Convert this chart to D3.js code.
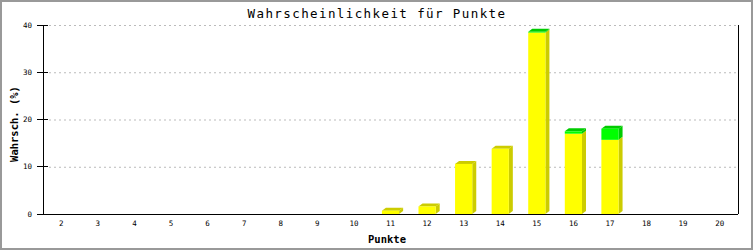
<!DOCTYPE html>
<html>
<head>
<meta charset="utf-8">
<script src="https://cdn.jsdelivr.net/npm/d3@7"></script>
<style>
  body { margin: 0; background: #fff; }
  svg { display: block; }
</style>
</head>
<body>
<svg id="chart" width="753" height="250"></svg>
<script>
// data
var punkte = ["2","3","4","5","6","7","8","9","10","11","12","13","14","15","16","17","18","19","20"];
var gelb  = [0,0,0,0,0,0,0,0,0,0.7,1.6,10.6,13.8,38.4,17.0,15.7,0,0,0];
var gruen = [0,0,0,0,0,0,0,0,0,0,0,0,0,0.15,0.5,2.35,0,0,0];
var yTicks = [0,10,20,30,40];

var W = 753, H = 250;
var plotLeft = 43, plotRight = 738, plotTop = 25, plotBottom = 214;
var depthX = 4, depthY = 3;

var svg = d3.select("#chart");

// outer frame
svg.append("rect")
  .attr("x", 1).attr("y", 1)
  .attr("width", W - 2).attr("height", H - 2)
  .attr("fill", "#fff")
  .attr("stroke", "#999")
  .attr("stroke-width", 2);

var x = d3.scaleBand()
  .domain(punkte)
  .range([plotLeft, plotRight])
  .padding(0);

var y = d3.scaleLinear()
  .domain([0, 40])
  .range([plotBottom, plotTop]);

var barW = x.bandwidth() * 0.47;
var mono = "'DejaVu Sans Mono', 'Liberation Mono', monospace";

// grid lines
svg.append("g")
  .selectAll("line")
  .data(yTicks.filter(function(d) { return d > 0; }))
  .enter()
  .append("line")
  .attr("x1", plotLeft + 6)
  .attr("x2", plotRight)
  .attr("y1", function(d) { return y(d) + 0.5; })
  .attr("y2", function(d) { return y(d) + 0.5; })
  .attr("stroke", "#bbb")
  .attr("stroke-dasharray", "2,3");

// build stacked segments
var rows = punkte.map(function(p, i) { return { p: p, gelb: gelb[i], gruen: gruen[i] }; });
var stack = d3.stack().keys(["gelb", "gruen"])(rows);
var front = { gelb: "#ffff00", gruen: "#00ff00" };
var dark  = { gelb: "#cccc00", gruen: "#00cc00" };

var bars = svg.append("g");
stack.forEach(function(layer) {
  layer.forEach(function(d, i) {
    if (d[1] - d[0] <= 0) return;
    var x0 = x(d.data.p) + (x.bandwidth() - barW) / 2;
    var x1 = x0 + barW;
    var yt = y(d[1]), yb = y(d[0]);
    var isTop = (layer.key === "gruen") || rows[i].gruen <= 0;
    // side face
    bars.append("polygon")
      .attr("points", [[x1, yt], [x1 + depthX, yt - depthY], [x1 + depthX, yb - depthY], [x1, yb]].join(" "))
      .attr("fill", dark[layer.key]);
    // top face
    if (isTop) {
      bars.append("polygon")
        .attr("points", [[x0, yt], [x0 + depthX, yt - depthY], [x1 + depthX, yt - depthY], [x1, yt]].join(" "))
        .attr("fill", dark[layer.key]);
    }
    // front face
    bars.append("rect")
      .attr("x", x0)
      .attr("y", yt)
      .attr("width", barW)
      .attr("height", yb - yt)
      .attr("fill", front[layer.key]);
  });
});

// axis lines
var axes = svg.append("g").attr("stroke", "#000").attr("shape-rendering", "crispEdges");
axes.append("line").attr("x1", plotLeft).attr("x2", plotRight).attr("y1", plotBottom).attr("y2", plotBottom);
axes.append("line").attr("x1", plotLeft).attr("x2", plotLeft).attr("y1", plotTop).attr("y2", plotBottom);
axes.append("line").attr("x1", plotRight).attr("x2", plotRight).attr("y1", plotTop).attr("y2", plotBottom);

// y axis ticks + labels
var yAxis = svg.append("g");
yAxis.selectAll("line")
  .data(yTicks)
  .enter()
  .append("line")
  .attr("x1", plotLeft - 6)
  .attr("x2", plotLeft + 5)
  .attr("y1", function(d) { return y(d); })
  .attr("y2", function(d) { return y(d); })
  .attr("stroke", "#000")
  .attr("shape-rendering", "crispEdges");

yAxis.selectAll("text")
  .data(yTicks)
  .enter()
  .append("text")
  .attr("x", 32)
  .attr("y", function(d) { return y(d) + 2.5; })
  .attr("text-anchor", "end")
  .attr("font-family", mono)
  .attr("font-size", 7.5)
  .text(function(d) { return d; });

// x labels
svg.append("g")
  .selectAll("text")
  .data(punkte)
  .enter()
  .append("text")
  .attr("x", function(d) { return x(d) + x.bandwidth() / 2; })
  .attr("y", 226)
  .attr("text-anchor", "middle")
  .attr("font-family", mono)
  .attr("font-size", 7.5)
  .text(function(d) { return d; });

// title
svg.append("text")
  .attr("x", 377)
  .attr("y", 18)
  .attr("text-anchor", "middle")
  .attr("font-family", mono)
  .attr("font-size", 12.5)
  .attr("letter-spacing", 1.4)
  .text("Wahrscheinlichkeit für Punkte");

// axis titles
svg.append("text")
  .attr("x", 387)
  .attr("y", 243)
  .attr("text-anchor", "middle")
  .attr("font-family", mono)
  .attr("font-weight", "bold")
  .attr("font-size", 10.5)
  .text("Punkte");

svg.append("text")
  .attr("transform", "translate(18,124) rotate(-90)")
  .attr("text-anchor", "middle")
  .attr("font-family", mono)
  .attr("font-weight", "bold")
  .attr("font-size", 10.5)
  .text("Wahrsch. (%)");
</script>
</body>
</html>
